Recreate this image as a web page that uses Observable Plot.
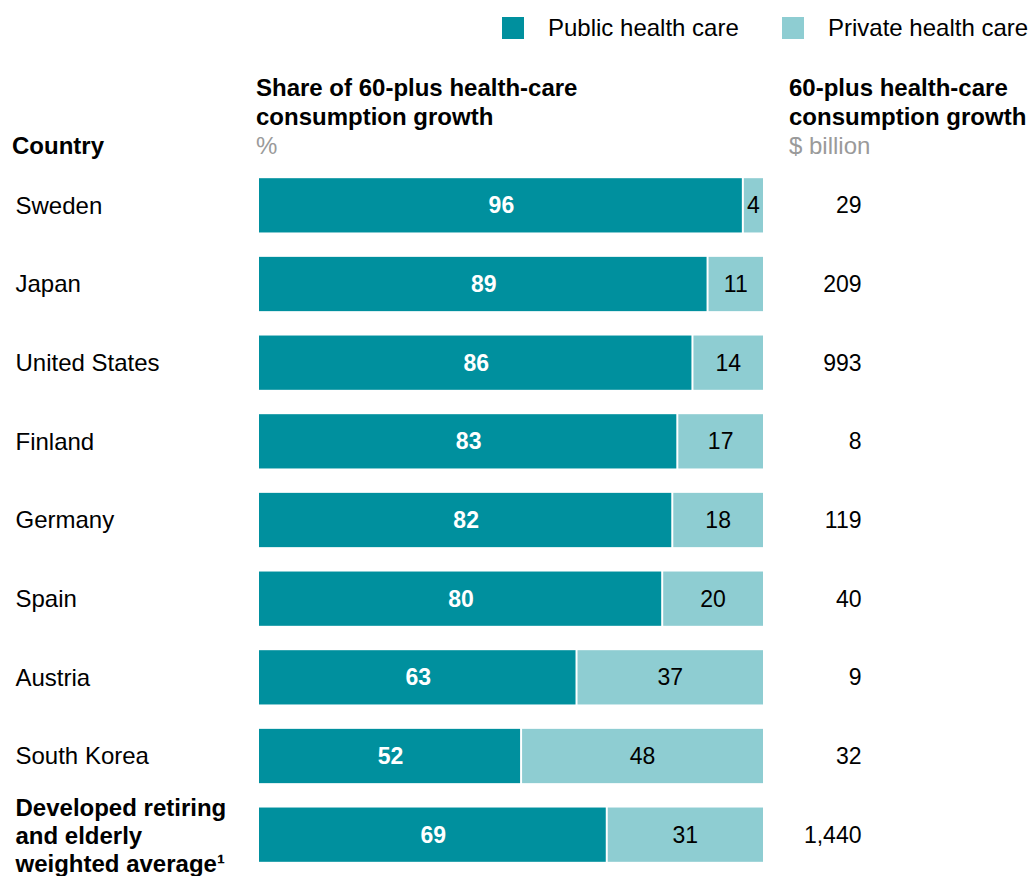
<!DOCTYPE html>
<html>
<head>
<meta charset="utf-8">
<script src="https://cdn.jsdelivr.net/npm/d3@7"></script>
<script src="https://cdn.jsdelivr.net/npm/@observablehq/plot@0.6"></script>
<style>
  html, body { margin: 0; padding: 0; background: #fff; }
  body { font-family: "Liberation Sans", Arial, sans-serif; color: #000; }
  #wrap { position: relative; width: 1032px; height: 876px; overflow: hidden; }
  .abs { position: absolute; white-space: nowrap; }
  .legend { top: 14px; font-size: 24px; line-height: 28px; display: flex; align-items: center; }
  .sw { width: 22px; height: 22px; display: inline-block; margin-right: 24px; }
  .hdr { font-size: 24px; font-weight: bold; line-height: 29px; }
  .unit { color: #9a9a9a; font-weight: normal; }
  #chart { position: absolute; left: 0; top: 166px; line-height: 0; }
</style>
</head>
<body>
<div id="wrap">
  <div class="abs legend" style="left:502px;"><span class="sw" style="background:#00909E"></span>Public health care</div>
  <div class="abs legend" style="left:782px;"><span class="sw" style="background:#8ECDD2"></span>Private health care</div>
  <div class="abs hdr" style="left:256px; top:73px;">Share of 60-plus health-care<br>consumption growth<br><span class="unit">%</span></div>
  <div class="abs hdr" style="left:789px; top:73px;">60-plus health-care<br>consumption growth<br><span class="unit">$ billion</span></div>
  <div class="abs hdr" style="left:12px; top:131px;">Country</div>
  <div id="chart"></div>
</div>
<script>
const countries = ["Sweden", "Japan", "United States", "Finland", "Germany", "Spain", "Austria", "South Korea", "Developed retiring\nand elderly\nweighted average\u00b9"];
const publicShare = [96, 89, 86, 83, 82, 80, 63, 52, 69];
const privateShare = [4, 11, 14, 17, 18, 20, 37, 48, 31];
const growthBillion = ["29", "209", "993", "8", "119", "40", "9", "32", "1,440"];
const boldRows = [false, false, false, false, false, false, false, false, true];

const rows = countries.map((c, i) => ({
  country: c,
  pub: publicShare[i],
  priv: privateShare[i],
  total: growthBillion[i],
  bold: boldRows[i]
}));

const PUBLIC = "#00909E";
const PRIVATE = "#8ECDD2";

const chart = Plot.plot({
  width: 1032,
  height: 710,
  marginLeft: 259,
  marginRight: 269,
  marginTop: 0,
  marginBottom: 2,
  style: { fontFamily: "'Liberation Sans', Arial, sans-serif", fontSize: "24px", background: "white", overflow: "visible" },
  x: { domain: [0, 100], axis: null },
  y: { domain: countries, axis: null, paddingInner: 0.31, paddingOuter: 0.155, round: false },
  marks: [
    Plot.barX(rows, { y: "country", x1: 0, x2: "pub", fill: PUBLIC, insetRight: 1 }),
    Plot.barX(rows, { y: "country", x1: "pub", x2: d => d.pub + d.priv, fill: PRIVATE, insetLeft: 1 }),
    Plot.text(rows, { y: "country", x: d => d.pub / 2, text: d => String(d.pub), fill: "white", fontWeight: "bold", fontSize: 23 }),
    Plot.text(rows, { y: "country", x: d => d.pub + d.priv / 2, text: d => String(d.priv), fill: "black", fontSize: 23 }),
    Plot.text(rows.filter(d => !d.bold), { y: "country", text: "country", frameAnchor: "left", textAnchor: "start", dx: -244, fontSize: 24, fill: "black" }),
    Plot.text(rows.filter(d => d.bold), { y: "country", text: "country", frameAnchor: "left", textAnchor: "start", dx: -244, fontSize: 24, fontWeight: "bold", lineHeight: 1.17, dy: 0, fill: "black" }),
    Plot.text(rows, { y: "country", text: "total", frameAnchor: "right", textAnchor: "end", dx: 98, fontSize: 23, fill: "black" })
  ]
});
document.getElementById("chart").appendChild(chart);
</script>
</body>
</html>
